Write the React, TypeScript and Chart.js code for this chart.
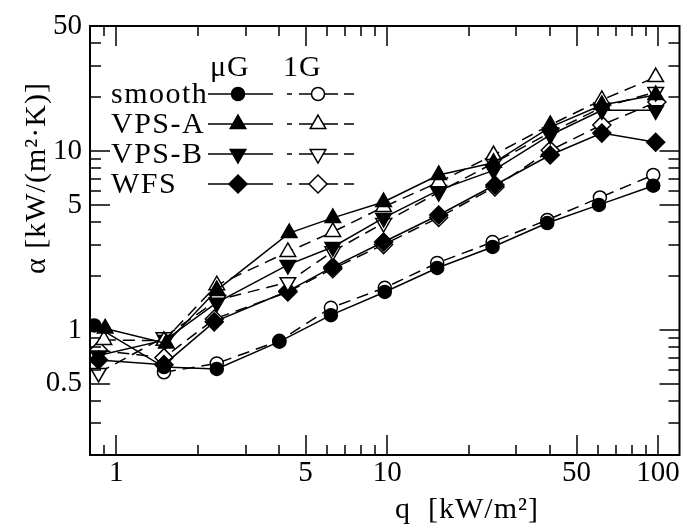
import React, { useEffect, useRef } from "react";
import { Chart, registerables } from "chart.js";

Chart.register(...registerables);

// ---- data (q in kW/m², alpha in kW/(m²·K)) ----
const qSmoothMu = [0.83, 1.5, 2.35, 4.0, 6.2, 9.8, 15.3, 24.5, 39, 60.5, 96];
const aSmoothMu = [1.06, 0.62, 0.605, 0.86, 1.21, 1.63, 2.22, 2.91, 3.96, 5.0, 6.4];
const qSmooth1G = [1.5, 2.35, 4.0, 6.2, 9.8, 15.3, 24.5, 39, 61, 96];
const aSmooth1G = [0.58, 0.65, 0.87, 1.33, 1.72, 2.37, 3.1, 4.12, 5.5, 7.35];

const qVpsAMu = [0.91, 1.53, 2.35, 4.35, 6.3, 9.7, 15.5, 24.7, 40, 62, 98];
const aVpsAMu = [1.02, 0.84, 1.67, 3.48, 4.23, 5.19, 7.35, 8.6, 13.6, 18.1, 20.6];
const qVpsA1G = [0.9, 1.5, 2.35, 4.3, 6.3, 9.7, 15.5, 24.7, 40, 62, 98];
const aVpsA1G = [0.88, 0.87, 1.78, 2.73, 3.53, 4.87, 6.7, 9.5, 14.0, 19.3, 25.9];

const qVpsBMu = [0.86, 1.52, 2.35, 4.3, 6.3, 9.7, 15.5, 24.7, 40, 62, 98];
const aVpsBMu = [0.72, 0.88, 1.42, 2.31, 2.91, 4.23, 6.05, 7.8, 12.3, 16.9, 16.9];
const qVpsB1G = [0.86, 1.5, 2.37, 4.3, 6.3, 9.7, 15.5, 24.7, 40, 62, 98];
const aVpsB1G = [0.575, 0.91, 1.47, 1.85, 2.75, 3.96, 5.9, 8.56, 12.7, 17.5, 21.4];

const qWfsMu = [0.86, 1.5, 2.3, 4.3, 6.3, 9.7, 15.5, 25, 40, 62, 98];
const aWfsMu = [0.68, 0.64, 1.11, 1.65, 2.25, 3.1, 4.39, 6.46, 9.5, 12.6, 11.2];
const qWfs1G = [0.86, 1.5, 2.3, 4.3, 6.3, 9.7, 15.5, 25, 40, 62, 99];
const aWfs1G = [0.77, 0.7, 1.15, 1.63, 2.2, 3.0, 4.25, 6.3, 10.1, 14.0, 18.8];

// ---- axes ----
const xLabelTicks = [1, 5, 10, 50, 100];
const xMinorTicks = [0.9, 2, 3, 4, 6, 7, 8, 9, 20, 30, 40, 60, 70, 80, 90];
const yLabelTicks = [0.5, 1, 5, 10, 50];
const yMinorTicks = [0.3, 0.4, 0.6, 0.7, 0.8, 0.9, 2, 3, 4, 6, 7, 8, 9, 20, 30, 40];

const legendNames = ["smooth", "VPS-A", "VPS-B", "WFS"];
const legendHeaders = ["μG", "1G"];
const xTitle = "q  [kW/m²]";
const yTitle = "α [kW/(m²·K)]";

const FONT = "'Liberation Serif', 'Times New Roman', serif";

const shapes = [
  { style: "circle", rot: 0, r: 6.5 },
  { style: "triangle", rot: 0, r: 9 },
  { style: "triangle", rot: 180, r: 9 },
  { style: "rectRot", rot: 0, r: 9 },
];

const pts = (xs: number[], ys: number[]) => xs.map((x, i) => ({ x, y: ys[i] }));

function ds(label: string, xs: number[], ys: number[], shapeIdx: number, filled: boolean) {
  const s = shapes[shapeIdx];
  return {
    label,
    data: pts(xs, ys),
    borderColor: "#000",
    borderWidth: 1.5,
    borderDash: filled ? [] : [12, 7],
    pointStyle: s.style,
    pointRotation: s.rot,
    pointRadius: s.r,
    pointBorderWidth: 1.5,
    pointBorderColor: "#000",
    pointBackgroundColor: filled ? "#000" : "#fff",
    backgroundColor: filled ? "#000" : "#fff",
    fill: false,
    tension: 0,
  };
}

function drawMarker(ctx: CanvasRenderingContext2D, idx: number, x: number, y: number, filled: boolean) {
  const s = shapes[idx];
  const r = s.r;
  let rad = (s.rot * Math.PI) / 180;
  ctx.beginPath();
  if (s.style === "circle") {
    ctx.arc(x, y, r, 0, Math.PI * 2);
  } else if (s.style === "triangle") {
    ctx.moveTo(x + Math.sin(rad) * r, y - Math.cos(rad) * r);
    rad += (2 * Math.PI) / 3;
    ctx.lineTo(x + Math.sin(rad) * r, y - Math.cos(rad) * r);
    rad += (2 * Math.PI) / 3;
    ctx.lineTo(x + Math.sin(rad) * r, y - Math.cos(rad) * r);
    ctx.closePath();
  } else {
    ctx.moveTo(x - r, y);
    ctx.lineTo(x, y - r);
    ctx.lineTo(x + r, y);
    ctx.lineTo(x, y + r);
    ctx.closePath();
  }
  ctx.fillStyle = filled ? "#000" : "#fff";
  ctx.fill();
  ctx.lineWidth = 1.5;
  ctx.strokeStyle = "#000";
  ctx.setLineDash([]);
  ctx.stroke();
}

const framePlugin = {
  id: "framePlugin",
  afterDraw(chart: any) {
    const { ctx, chartArea: a, scales } = chart;
    const xs = scales.x;
    const ys = scales.y;
    ctx.save();
    ctx.strokeStyle = "#000";
    ctx.setLineDash([]);
    // ticks inward, all four sides
    ctx.lineWidth = 1.5;
    const drawX = (v: number, len: number) => {
      const px = Math.round(xs.getPixelForValue(v));
      ctx.beginPath();
      ctx.moveTo(px, a.bottom);
      ctx.lineTo(px, a.bottom - len);
      ctx.moveTo(px, a.top);
      ctx.lineTo(px, a.top + len);
      ctx.stroke();
    };
    const drawY = (v: number, len: number) => {
      const py = Math.round(ys.getPixelForValue(v));
      ctx.beginPath();
      ctx.moveTo(a.left, py);
      ctx.lineTo(a.left + len, py);
      ctx.moveTo(a.right, py);
      ctx.lineTo(a.right - len, py);
      ctx.stroke();
    };
    xLabelTicks.forEach((v) => drawX(v, 20));
    xMinorTicks.forEach((v) => drawX(v, 10));
    yLabelTicks.forEach((v) => drawY(v, 20));
    yMinorTicks.forEach((v) => drawY(v, 11));
    // frame
    ctx.lineWidth = 2;
    ctx.strokeRect(a.left, a.top, a.right - a.left, a.bottom - a.top);

    // axis titles
    ctx.fillStyle = "#000";
    ctx.font = `30px ${FONT}`;
    (ctx as any).letterSpacing = "1px";
    ctx.textAlign = "center";
    ctx.textBaseline = "alphabetic";
    ctx.fillText(xTitle, 467, 518);
    ctx.save();
    ctx.translate(45, 178);
    ctx.rotate(-Math.PI / 2);
    ctx.textBaseline = "alphabetic";
    ctx.fillText(yTitle, 0, 0);
    ctx.restore();

    // legend
    ctx.font = `30px ${FONT}`;
    ctx.textAlign = "left";
    ctx.textBaseline = "middle";
    ctx.fillText(legendHeaders[0], 210, 68);
    ctx.fillText(legendHeaders[1], 283, 68);
    const rowsY = [94, 124, 154, 184];
    legendNames.forEach((name, i) => {
      const y = rowsY[i];
      ctx.fillStyle = "#000";
      ctx.textAlign = "left";
      ctx.textBaseline = "middle";
      ctx.font = `30px ${FONT}`;
      (ctx as any).letterSpacing = "1.5px";
      ctx.fillText(name, 111, y + 1);
      ctx.lineWidth = 1.5;
      ctx.setLineDash([]);
      ctx.beginPath();
      ctx.moveTo(208, y);
      ctx.lineTo(273, y);
      ctx.stroke();
      drawMarker(ctx, i, 238, y, true);
      ctx.beginPath();
      ctx.moveTo(287, y);
      ctx.lineTo(292, y);
      ctx.moveTo(299, y);
      ctx.lineTo(338, y);
      ctx.moveTo(344, y);
      ctx.lineTo(354, y);
      ctx.stroke();
      drawMarker(ctx, i, 318, y, false);
    });
    (ctx as any).letterSpacing = "0px";
    ctx.restore();
  },
};

export default function App() {
  const ref = useRef<HTMLCanvasElement | null>(null);
  useEffect(() => {
    if (!ref.current) return;
    Chart.defaults.font.family = FONT;
    Chart.defaults.color = "#000";
    const chart = new Chart(ref.current, {
      type: "line",
      data: {
        datasets: [
          ds("smooth μG", qSmoothMu, aSmoothMu, 0, true),
          ds("smooth 1G", qSmooth1G, aSmooth1G, 0, false),
          ds("VPS-A μG", qVpsAMu, aVpsAMu, 1, true),
          ds("VPS-A 1G", qVpsA1G, aVpsA1G, 1, false),
          ds("VPS-B μG", qVpsBMu, aVpsBMu, 2, true),
          ds("VPS-B 1G", qVpsB1G, aVpsB1G, 2, false),
          ds("WFS μG", qWfsMu, aWfsMu, 3, true),
          ds("WFS 1G", qWfs1G, aWfs1G, 3, false),
        ] as any,
      },
      options: {
        animation: false,
        responsive: false,
        devicePixelRatio: 1,
        layout: { padding: { top: 26, right: 5, left: 0, bottom: 0 } },
        plugins: { legend: { display: false }, tooltip: { enabled: false } },
        scales: {
          x: {
            type: "logarithmic",
            min: 0.8,
            max: 120,
            grid: { display: false, drawTicks: false },
            border: { display: false },
            afterBuildTicks: (s: any) => {
              s.ticks = xLabelTicks.map((v) => ({ value: v }));
            },
            afterFit: (s: any) => {
              s.height = 72;
            },
            ticks: {
              autoSkip: false,
              maxRotation: 0,
              padding: 1,
              font: { size: 29, family: FONT },
              color: "#000",
              callback: (v: any) => String(v),
            },
          },
          y: {
            type: "logarithmic",
            min: 0.2,
            max: 50,
            grid: { display: false, drawTicks: false },
            border: { display: false },
            afterBuildTicks: (s: any) => {
              s.ticks = yLabelTicks.map((v) => ({ value: v }));
            },
            afterFit: (s: any) => {
              s.width = 90;
            },
            ticks: {
              autoSkip: false,
              padding: 8,
              font: { size: 29, family: FONT },
              color: "#000",
              callback: (v: any) => String(v),
            },
          },
        },
      } as any,
      plugins: [framePlugin],
    });
    return () => chart.destroy();
  }, []);
  return (
    <div style={{ position: "fixed", left: 0, top: 0, width: 690, height: 527, background: "#fff" }}>
      <canvas ref={ref} width={690} height={527} style={{ width: 690, height: 527 }} />
    </div>
  );
}
